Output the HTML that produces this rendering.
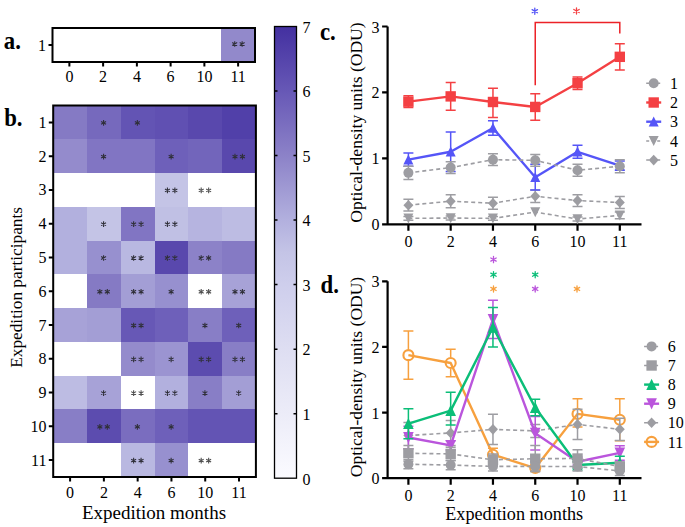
<!DOCTYPE html><html><head><meta charset="utf-8"><style>html,body{margin:0;padding:0;background:#fff;width:685px;height:527px;overflow:hidden}</style></head><body><svg width="685" height="527" viewBox="0 0 685 527" style="display:block">
<rect width="685" height="527" fill="#fff"/>
<g font-family="Liberation Serif" fill="#000">
<rect x="221" y="28.0" width="34" height="34.0" fill="#9289cb" shape-rendering="crispEdges"/>
<path d="M234.70 41.15V46.85M232.23 42.58L237.17 45.42M232.23 45.42L237.17 42.58M242.15 41.15V46.85M239.68 42.58L244.62 45.42M239.68 45.42L244.62 42.58" stroke="#30303a" stroke-width="1.1" stroke-linecap="butt" fill="none"/>
<rect x="53" y="106" width="34" height="33" fill="#857ac4" shape-rendering="crispEdges"/>
<rect x="87" y="106" width="34" height="33" fill="#7669bd" shape-rendering="crispEdges"/>
<rect x="121" y="106" width="34" height="33" fill="#6354b4" shape-rendering="crispEdges"/>
<rect x="155" y="106" width="33" height="33" fill="#6050b2" shape-rendering="crispEdges"/>
<rect x="188" y="106" width="34" height="33" fill="#5948ad" shape-rendering="crispEdges"/>
<rect x="222" y="106" width="34" height="33" fill="#5140a9" shape-rendering="crispEdges"/>
<rect x="53" y="139" width="34" height="34" fill="#948bcc" shape-rendering="crispEdges"/>
<rect x="87" y="139" width="34" height="34" fill="#8175c3" shape-rendering="crispEdges"/>
<rect x="121" y="139" width="34" height="34" fill="#8175c3" shape-rendering="crispEdges"/>
<rect x="155" y="139" width="33" height="34" fill="#6e60ba" shape-rendering="crispEdges"/>
<rect x="188" y="139" width="34" height="34" fill="#7265bb" shape-rendering="crispEdges"/>
<rect x="222" y="139" width="34" height="34" fill="#5948ad" shape-rendering="crispEdges"/>
<rect x="155" y="173" width="33" height="34" fill="#c4c4e6" shape-rendering="crispEdges"/>
<rect x="53" y="207" width="34" height="34" fill="#b2b0de" shape-rendering="crispEdges"/>
<rect x="87" y="207" width="34" height="34" fill="#c4c4e6" shape-rendering="crispEdges"/>
<rect x="121" y="207" width="34" height="34" fill="#8175c3" shape-rendering="crispEdges"/>
<rect x="155" y="207" width="33" height="34" fill="#c0c0e4" shape-rendering="crispEdges"/>
<rect x="188" y="207" width="34" height="34" fill="#b6b4e0" shape-rendering="crispEdges"/>
<rect x="222" y="207" width="34" height="34" fill="#bdbce3" shape-rendering="crispEdges"/>
<rect x="53" y="241" width="34" height="33" fill="#b2b0de" shape-rendering="crispEdges"/>
<rect x="87" y="241" width="34" height="33" fill="#9790cf" shape-rendering="crispEdges"/>
<rect x="121" y="241" width="34" height="33" fill="#b9b8e1" shape-rendering="crispEdges"/>
<rect x="155" y="241" width="33" height="33" fill="#5948ad" shape-rendering="crispEdges"/>
<rect x="188" y="241" width="34" height="33" fill="#8c82c8" shape-rendering="crispEdges"/>
<rect x="222" y="241" width="34" height="33" fill="#857ac4" shape-rendering="crispEdges"/>
<rect x="87" y="274" width="34" height="34" fill="#857ac4" shape-rendering="crispEdges"/>
<rect x="121" y="274" width="34" height="34" fill="#a39ed5" shape-rendering="crispEdges"/>
<rect x="155" y="274" width="33" height="34" fill="#9790cf" shape-rendering="crispEdges"/>
<rect x="222" y="274" width="34" height="34" fill="#a7a2d7" shape-rendering="crispEdges"/>
<rect x="53" y="308" width="34" height="34" fill="#a7a2d7" shape-rendering="crispEdges"/>
<rect x="87" y="308" width="34" height="34" fill="#a39ed5" shape-rendering="crispEdges"/>
<rect x="121" y="308" width="34" height="34" fill="#6758b6" shape-rendering="crispEdges"/>
<rect x="155" y="308" width="33" height="34" fill="#6e60ba" shape-rendering="crispEdges"/>
<rect x="188" y="308" width="34" height="34" fill="#887ec6" shape-rendering="crispEdges"/>
<rect x="222" y="308" width="34" height="34" fill="#6e60ba" shape-rendering="crispEdges"/>
<rect x="121" y="342" width="34" height="34" fill="#948bcc" shape-rendering="crispEdges"/>
<rect x="155" y="342" width="33" height="34" fill="#9b94d1" shape-rendering="crispEdges"/>
<rect x="188" y="342" width="34" height="34" fill="#5c4caf" shape-rendering="crispEdges"/>
<rect x="222" y="342" width="34" height="34" fill="#887ec6" shape-rendering="crispEdges"/>
<rect x="53" y="376" width="34" height="33" fill="#bdbce3" shape-rendering="crispEdges"/>
<rect x="87" y="376" width="34" height="33" fill="#a7a2d7" shape-rendering="crispEdges"/>
<rect x="155" y="376" width="33" height="33" fill="#b2b0de" shape-rendering="crispEdges"/>
<rect x="188" y="376" width="34" height="33" fill="#887ec6" shape-rendering="crispEdges"/>
<rect x="222" y="376" width="34" height="33" fill="#a39ed5" shape-rendering="crispEdges"/>
<rect x="53" y="409" width="34" height="34" fill="#887ec6" shape-rendering="crispEdges"/>
<rect x="87" y="409" width="34" height="34" fill="#5c4caf" shape-rendering="crispEdges"/>
<rect x="121" y="409" width="34" height="34" fill="#7a6dbf" shape-rendering="crispEdges"/>
<rect x="155" y="409" width="33" height="34" fill="#6e60ba" shape-rendering="crispEdges"/>
<rect x="188" y="409" width="34" height="34" fill="#6354b4" shape-rendering="crispEdges"/>
<rect x="222" y="409" width="34" height="34" fill="#6354b4" shape-rendering="crispEdges"/>
<rect x="121" y="443" width="34" height="34" fill="#b9b8e1" shape-rendering="crispEdges"/>
<rect x="155" y="443" width="33" height="34" fill="#9790cf" shape-rendering="crispEdges"/>
<path d="M103.58 120.04V125.74M101.11 121.46L106.04 124.31M101.11 124.31L106.04 121.46" stroke="#30303a" stroke-width="1.1" stroke-linecap="butt" fill="none"/>
<path d="M137.36 120.04V125.74M134.89 121.46L139.83 124.31M134.89 124.31L139.83 121.46" stroke="#30303a" stroke-width="1.1" stroke-linecap="butt" fill="none"/>
<path d="M103.58 153.81V159.51M101.11 155.23L106.04 158.08M101.11 158.08L106.04 155.23" stroke="#30303a" stroke-width="1.1" stroke-linecap="butt" fill="none"/>
<path d="M171.14 153.81V159.51M168.67 155.23L173.61 158.08M168.67 158.08L173.61 155.23" stroke="#30303a" stroke-width="1.1" stroke-linecap="butt" fill="none"/>
<path d="M234.98 153.81V159.51M232.52 155.23L237.45 158.08M232.52 158.08L237.45 155.23M242.43 153.81V159.51M239.97 155.23L244.90 158.08M239.97 158.08L244.90 155.23" stroke="#30303a" stroke-width="1.1" stroke-linecap="butt" fill="none"/>
<path d="M167.42 187.58V193.28M164.95 189.01L169.88 191.86M164.95 191.86L169.88 189.01M174.87 187.58V193.28M172.40 189.01L177.33 191.86M172.40 191.86L177.33 189.01" stroke="#30303a" stroke-width="1.1" stroke-linecap="butt" fill="none"/>
<path d="M201.20 187.58V193.28M198.73 189.01L203.67 191.86M198.73 191.86L203.67 189.01M208.65 187.58V193.28M206.18 189.01L211.12 191.86M206.18 191.86L211.12 189.01" stroke="#505050" stroke-width="1.1" stroke-linecap="butt" fill="none"/>
<path d="M103.58 221.35V227.05M101.11 222.78L106.04 225.63M101.11 225.63L106.04 222.78" stroke="#30303a" stroke-width="1.1" stroke-linecap="butt" fill="none"/>
<path d="M133.63 221.35V227.05M131.17 222.78L136.10 225.63M131.17 225.63L136.10 222.78M141.08 221.35V227.05M138.62 222.78L143.55 225.63M138.62 225.63L143.55 222.78" stroke="#30303a" stroke-width="1.1" stroke-linecap="butt" fill="none"/>
<path d="M167.42 221.35V227.05M164.95 222.78L169.88 225.63M164.95 225.63L169.88 222.78M174.87 221.35V227.05M172.40 222.78L177.33 225.63M172.40 225.63L177.33 222.78" stroke="#30303a" stroke-width="1.1" stroke-linecap="butt" fill="none"/>
<path d="M103.58 255.13V260.83M101.11 256.55L106.04 259.40M101.11 259.40L106.04 256.55" stroke="#30303a" stroke-width="1.1" stroke-linecap="butt" fill="none"/>
<path d="M133.63 255.13V260.83M131.17 256.55L136.10 259.40M131.17 259.40L136.10 256.55M141.08 255.13V260.83M138.62 256.55L143.55 259.40M138.62 259.40L143.55 256.55" stroke="#30303a" stroke-width="1.1" stroke-linecap="butt" fill="none"/>
<path d="M167.42 255.13V260.83M164.95 256.55L169.88 259.40M164.95 259.40L169.88 256.55M174.87 255.13V260.83M172.40 256.55L177.33 259.40M172.40 259.40L177.33 256.55" stroke="#30303a" stroke-width="1.1" stroke-linecap="butt" fill="none"/>
<path d="M201.20 255.13V260.83M198.73 256.55L203.67 259.40M198.73 259.40L203.67 256.55M208.65 255.13V260.83M206.18 256.55L211.12 259.40M206.18 259.40L211.12 256.55" stroke="#30303a" stroke-width="1.1" stroke-linecap="butt" fill="none"/>
<path d="M99.85 288.90V294.60M97.38 290.32L102.32 293.18M97.38 293.18L102.32 290.32M107.30 288.90V294.60M104.83 290.32L109.77 293.18M104.83 293.18L109.77 290.32" stroke="#30303a" stroke-width="1.1" stroke-linecap="butt" fill="none"/>
<path d="M133.63 288.90V294.60M131.17 290.32L136.10 293.18M131.17 293.18L136.10 290.32M141.08 288.90V294.60M138.62 290.32L143.55 293.18M138.62 293.18L143.55 290.32" stroke="#30303a" stroke-width="1.1" stroke-linecap="butt" fill="none"/>
<path d="M171.14 288.90V294.60M168.67 290.32L173.61 293.18M168.67 293.18L173.61 290.32" stroke="#30303a" stroke-width="1.1" stroke-linecap="butt" fill="none"/>
<path d="M201.20 288.90V294.60M198.73 290.32L203.67 293.18M198.73 293.18L203.67 290.32M208.65 288.90V294.60M206.18 290.32L211.12 293.18M206.18 293.18L211.12 290.32" stroke="#505050" stroke-width="1.1" stroke-linecap="butt" fill="none"/>
<path d="M234.98 288.90V294.60M232.52 290.32L237.45 293.18M232.52 293.18L237.45 290.32M242.43 288.90V294.60M239.97 290.32L244.90 293.18M239.97 293.18L244.90 290.32" stroke="#30303a" stroke-width="1.1" stroke-linecap="butt" fill="none"/>
<path d="M133.63 322.67V328.37M131.17 324.10L136.10 326.95M131.17 326.95L136.10 324.10M141.08 322.67V328.37M138.62 324.10L143.55 326.95M138.62 326.95L143.55 324.10" stroke="#30303a" stroke-width="1.1" stroke-linecap="butt" fill="none"/>
<path d="M204.92 322.67V328.37M202.46 324.10L207.39 326.95M202.46 326.95L207.39 324.10" stroke="#30303a" stroke-width="1.1" stroke-linecap="butt" fill="none"/>
<path d="M238.71 322.67V328.37M236.24 324.10L241.18 326.95M236.24 326.95L241.18 324.10" stroke="#30303a" stroke-width="1.1" stroke-linecap="butt" fill="none"/>
<path d="M133.63 356.45V362.15M131.17 357.87L136.10 360.72M131.17 360.72L136.10 357.87M141.08 356.45V362.15M138.62 357.87L143.55 360.72M138.62 360.72L143.55 357.87" stroke="#30303a" stroke-width="1.1" stroke-linecap="butt" fill="none"/>
<path d="M171.14 356.45V362.15M168.67 357.87L173.61 360.72M168.67 360.72L173.61 357.87" stroke="#30303a" stroke-width="1.1" stroke-linecap="butt" fill="none"/>
<path d="M201.20 356.45V362.15M198.73 357.87L203.67 360.72M198.73 360.72L203.67 357.87M208.65 356.45V362.15M206.18 357.87L211.12 360.72M206.18 360.72L211.12 357.87" stroke="#30303a" stroke-width="1.1" stroke-linecap="butt" fill="none"/>
<path d="M234.98 356.45V362.15M232.52 357.87L237.45 360.72M232.52 360.72L237.45 357.87M242.43 356.45V362.15M239.97 357.87L244.90 360.72M239.97 360.72L244.90 357.87" stroke="#30303a" stroke-width="1.1" stroke-linecap="butt" fill="none"/>
<path d="M103.58 390.22V395.92M101.11 391.64L106.04 394.49M101.11 394.49L106.04 391.64" stroke="#30303a" stroke-width="1.1" stroke-linecap="butt" fill="none"/>
<path d="M133.63 390.22V395.92M131.17 391.64L136.10 394.49M131.17 394.49L136.10 391.64M141.08 390.22V395.92M138.62 391.64L143.55 394.49M138.62 394.49L143.55 391.64" stroke="#505050" stroke-width="1.1" stroke-linecap="butt" fill="none"/>
<path d="M167.42 390.22V395.92M164.95 391.64L169.88 394.49M164.95 394.49L169.88 391.64M174.87 390.22V395.92M172.40 391.64L177.33 394.49M172.40 394.49L177.33 391.64" stroke="#30303a" stroke-width="1.1" stroke-linecap="butt" fill="none"/>
<path d="M204.92 390.22V395.92M202.46 391.64L207.39 394.49M202.46 394.49L207.39 391.64" stroke="#30303a" stroke-width="1.1" stroke-linecap="butt" fill="none"/>
<path d="M238.71 390.22V395.92M236.24 391.64L241.18 394.49M236.24 394.49L241.18 391.64" stroke="#30303a" stroke-width="1.1" stroke-linecap="butt" fill="none"/>
<path d="M99.85 423.99V429.69M97.38 425.42L102.32 428.27M97.38 428.27L102.32 425.42M107.30 423.99V429.69M104.83 425.42L109.77 428.27M104.83 428.27L109.77 425.42" stroke="#30303a" stroke-width="1.1" stroke-linecap="butt" fill="none"/>
<path d="M137.36 423.99V429.69M134.89 425.42L139.83 428.27M134.89 428.27L139.83 425.42" stroke="#30303a" stroke-width="1.1" stroke-linecap="butt" fill="none"/>
<path d="M171.14 423.99V429.69M168.67 425.42L173.61 428.27M168.67 428.27L173.61 425.42" stroke="#30303a" stroke-width="1.1" stroke-linecap="butt" fill="none"/>
<path d="M133.63 457.76V463.46M131.17 459.19L136.10 462.04M131.17 462.04L136.10 459.19M141.08 457.76V463.46M138.62 459.19L143.55 462.04M138.62 462.04L143.55 459.19" stroke="#30303a" stroke-width="1.1" stroke-linecap="butt" fill="none"/>
<path d="M171.14 457.76V463.46M168.67 459.19L173.61 462.04M168.67 462.04L173.61 459.19" stroke="#30303a" stroke-width="1.1" stroke-linecap="butt" fill="none"/>
<path d="M201.20 457.76V463.46M198.73 459.19L203.67 462.04M198.73 462.04L203.67 459.19M208.65 457.76V463.46M206.18 459.19L211.12 462.04M206.18 462.04L211.12 459.19" stroke="#505050" stroke-width="1.1" stroke-linecap="butt" fill="none"/>
<rect x="52.5" y="28.0" width="202.5" height="34.0" fill="none" stroke="#000" stroke-width="2"/>
<rect x="53.2" y="105.5" width="202.7" height="371.5" fill="none" stroke="#000" stroke-width="2"/>
<path d="M48.5 45.00H52.5 M69.38 62.0V66.5 M70.09 477.0V481.5 M103.12 62.0V66.5 M103.88 477.0V481.5 M136.88 62.0V66.5 M137.66 477.0V481.5 M170.62 62.0V66.5 M171.44 477.0V481.5 M204.38 62.0V66.5 M205.22 477.0V481.5 M238.12 62.0V66.5 M239.01 477.0V481.5 M48.8 122.39H53.2 M48.8 156.16H53.2 M48.8 189.93H53.2 M48.8 223.70H53.2 M48.8 257.48H53.2 M48.8 291.25H53.2 M48.8 325.02H53.2 M48.8 358.80H53.2 M48.8 392.57H53.2 M48.8 426.34H53.2 M48.8 460.11H53.2" stroke="#000" stroke-width="2" fill="none"/>
<text x="46" y="50.50" font-size="16" text-anchor="end">1</text>
<text x="69.38" y="82.20" font-size="16" text-anchor="middle">0</text>
<text x="70.09" y="497.60" font-size="16" text-anchor="middle">0</text>
<text x="103.12" y="82.20" font-size="16" text-anchor="middle">2</text>
<text x="103.88" y="497.60" font-size="16" text-anchor="middle">2</text>
<text x="136.88" y="82.20" font-size="16" text-anchor="middle">4</text>
<text x="137.66" y="497.60" font-size="16" text-anchor="middle">4</text>
<text x="170.62" y="82.20" font-size="16" text-anchor="middle">6</text>
<text x="171.44" y="497.60" font-size="16" text-anchor="middle">6</text>
<text x="204.38" y="82.20" font-size="16" text-anchor="middle">10</text>
<text x="205.22" y="497.60" font-size="16" text-anchor="middle">10</text>
<text x="238.12" y="82.20" font-size="16" text-anchor="middle">11</text>
<text x="239.01" y="497.60" font-size="16" text-anchor="middle">11</text>
<text x="46.5" y="127.89" font-size="16" text-anchor="end">1</text>
<text x="46.5" y="161.66" font-size="16" text-anchor="end">2</text>
<text x="46.5" y="195.43" font-size="16" text-anchor="end">3</text>
<text x="46.5" y="229.20" font-size="16" text-anchor="end">4</text>
<text x="46.5" y="262.98" font-size="16" text-anchor="end">5</text>
<text x="46.5" y="296.75" font-size="16" text-anchor="end">6</text>
<text x="46.5" y="330.52" font-size="16" text-anchor="end">7</text>
<text x="46.5" y="364.30" font-size="16" text-anchor="end">8</text>
<text x="46.5" y="398.07" font-size="16" text-anchor="end">9</text>
<text x="46.5" y="431.84" font-size="16" text-anchor="end">10</text>
<text x="46.5" y="465.61" font-size="16" text-anchor="end">11</text>
<text x="154" y="518.7" font-size="19" text-anchor="middle">Expedition months</text>
<text transform="translate(22 287.4) rotate(-90)" font-size="17.3" text-anchor="middle">Expedition participants</text>
<text transform="translate(3.8 48.8) scale(0.95 1.07)" font-size="24" font-weight="bold">a.</text>
<text transform="translate(4.2 125.8) scale(0.95 1.07)" font-size="24" font-weight="bold">b.</text>
<text transform="translate(320 39.8) scale(0.95 1.07)" font-size="24" font-weight="bold">c.</text>
<text transform="translate(320.5 292.8) scale(0.95 1.07)" font-size="24" font-weight="bold">d.</text>
<defs><linearGradient id="cb" x1="0" y1="1" x2="0" y2="0">
<stop offset="0.0000" stop-color="#fbfbff"/>
<stop offset="0.1429" stop-color="#ececf8"/>
<stop offset="0.2857" stop-color="#dedef2"/>
<stop offset="0.4286" stop-color="#ceceec"/>
<stop offset="0.5000" stop-color="#c4c4e6"/>
<stop offset="0.5714" stop-color="#b2b0de"/>
<stop offset="0.7143" stop-color="#8c82c8"/>
<stop offset="0.8571" stop-color="#6758b6"/>
<stop offset="1.0000" stop-color="#4330a0"/>
</linearGradient></defs>
<rect x="274.5" y="26.5" width="22.0" height="451.7" fill="url(#cb)" stroke="#000" stroke-width="1.3"/>
<path d="M274.5 413.67h3M296.5 413.67h-3M274.5 349.14h3M296.5 349.14h-3M274.5 284.61h3M296.5 284.61h-3M274.5 220.09h3M296.5 220.09h-3M274.5 155.56h3M296.5 155.56h-3M274.5 91.03h3M296.5 91.03h-3" stroke="#000" stroke-width="1.5"/>
<text x="302.5" y="484.50" font-size="16">0</text>
<text x="302.5" y="419.97" font-size="16">1</text>
<text x="302.5" y="355.44" font-size="16">2</text>
<text x="302.5" y="290.91" font-size="16">3</text>
<text x="302.5" y="226.39" font-size="16">4</text>
<text x="302.5" y="161.86" font-size="16">5</text>
<text x="302.5" y="97.33" font-size="16">6</text>
<text x="302.5" y="32.80" font-size="16">7</text>
<path d="M387.6 26.5V225.3 M386.6 224.3H641.5 M382.1 224.30H387.6 M382.1 158.37H387.6 M382.1 92.43H387.6 M382.1 26.50H387.6 M408.4 224.3V230.8 M450.67999999999995 224.3V230.8 M492.96 224.3V230.8 M535.24 224.3V230.8 M577.52 224.3V230.8 M619.8 224.3V230.8" stroke="#000" stroke-width="2.2" fill="none"/>
<text x="379.6" y="230.30" font-size="16" text-anchor="end">0</text>
<text x="379.6" y="164.37" font-size="16" text-anchor="end">1</text>
<text x="379.6" y="98.43" font-size="16" text-anchor="end">2</text>
<text x="379.6" y="32.50" font-size="16" text-anchor="end">3</text>
<text x="408.4" y="246.80" font-size="16" text-anchor="middle">0</text>
<text x="450.67999999999995" y="246.80" font-size="16" text-anchor="middle">2</text>
<text x="492.96" y="246.80" font-size="16" text-anchor="middle">4</text>
<text x="535.24" y="246.80" font-size="16" text-anchor="middle">6</text>
<text x="577.52" y="246.80" font-size="16" text-anchor="middle">10</text>
<text x="619.8" y="246.80" font-size="16" text-anchor="middle">11</text>
<text transform="translate(362 122.6) rotate(-90)" font-size="17.5" text-anchor="middle">Optical-density units (ODU)</text>
<path d="M408.40 205.18 L450.68 201.22 L492.96 203.20 L535.24 196.28 L577.52 200.56 L619.80 202.54" stroke="#9d9da2" stroke-width="1.6" stroke-dasharray="4 3" fill="none"/>
<path d="M408.40 199.25V211.11M403.40 199.25h10M403.40 211.11h10" stroke="#9d9da2" stroke-width="1.5" fill="none"/>
<path d="M450.68 194.63V207.82M445.68 194.63h10M445.68 207.82h10" stroke="#9d9da2" stroke-width="1.5" fill="none"/>
<path d="M492.96 197.27V209.14M487.96 197.27h10M487.96 209.14h10" stroke="#9d9da2" stroke-width="1.5" fill="none"/>
<path d="M535.24 190.01V202.54M530.24 190.01h10M530.24 202.54h10" stroke="#9d9da2" stroke-width="1.5" fill="none"/>
<path d="M577.52 194.63V206.50M572.52 194.63h10M572.52 206.50h10" stroke="#9d9da2" stroke-width="1.5" fill="none"/>
<path d="M619.80 196.61V208.48M614.80 196.61h10M614.80 208.48h10" stroke="#9d9da2" stroke-width="1.5" fill="none"/>
<path d="M408.40 199.88L413.40 205.18L408.40 210.48L403.40 205.18Z" fill="#9d9da2"/>
<path d="M450.68 195.92L455.68 201.22L450.68 206.52L445.68 201.22Z" fill="#9d9da2"/>
<path d="M492.96 197.90L497.96 203.20L492.96 208.50L487.96 203.20Z" fill="#9d9da2"/>
<path d="M535.24 190.98L540.24 196.28L535.24 201.58L530.24 196.28Z" fill="#9d9da2"/>
<path d="M577.52 195.26L582.52 200.56L577.52 205.86L572.52 200.56Z" fill="#9d9da2"/>
<path d="M619.80 197.24L624.80 202.54L619.80 207.84L614.80 202.54Z" fill="#9d9da2"/>
<path d="M408.40 218.37 L450.68 218.04 L492.96 218.37 L535.24 212.10 L577.52 219.03 L619.80 215.40" stroke="#9d9da2" stroke-width="1.6" stroke-dasharray="4 3" fill="none"/>
<path d="M408.40 216.39V220.34M403.40 216.39h10M403.40 220.34h10" stroke="#9d9da2" stroke-width="1.5" fill="none"/>
<path d="M450.68 216.06V220.01M445.68 216.06h10M445.68 220.01h10" stroke="#9d9da2" stroke-width="1.5" fill="none"/>
<path d="M492.96 216.39V220.34M487.96 216.39h10M487.96 220.34h10" stroke="#9d9da2" stroke-width="1.5" fill="none"/>
<path d="M577.52 217.05V221.00M572.52 217.05h10M572.52 221.00h10" stroke="#9d9da2" stroke-width="1.5" fill="none"/>
<path d="M619.80 212.10V218.70M614.80 212.10h10M614.80 218.70h10" stroke="#9d9da2" stroke-width="1.5" fill="none"/>
<path d="M408.40 223.57L413.40 213.57L403.40 213.57Z" fill="#9d9da2"/>
<path d="M450.68 223.24L455.68 213.24L445.68 213.24Z" fill="#9d9da2"/>
<path d="M492.96 223.57L497.96 213.57L487.96 213.57Z" fill="#9d9da2"/>
<path d="M535.24 217.30L540.24 207.30L530.24 207.30Z" fill="#9d9da2"/>
<path d="M577.52 224.23L582.52 214.23L572.52 214.23Z" fill="#9d9da2"/>
<path d="M619.80 220.60L624.80 210.60L614.80 210.60Z" fill="#9d9da2"/>
<path d="M408.40 159.69 L450.68 151.77 L492.96 128.04 L535.24 177.16 L577.52 151.77 L619.80 165.62" stroke="#5555f7" stroke-width="2.4" fill="none" stroke-linejoin="round"/>
<path d="M408.40 153.09V166.28M403.40 153.09h10M403.40 166.28h10" stroke="#5555f7" stroke-width="1.5" fill="none"/>
<path d="M450.68 131.99V171.55M445.68 131.99h10M445.68 171.55h10" stroke="#5555f7" stroke-width="1.5" fill="none"/>
<path d="M492.96 120.78V135.29M487.96 120.78h10M487.96 135.29h10" stroke="#5555f7" stroke-width="1.5" fill="none"/>
<path d="M535.24 164.30V190.01M530.24 164.30h10M530.24 190.01h10" stroke="#5555f7" stroke-width="1.5" fill="none"/>
<path d="M577.52 145.18V158.37M572.52 145.18h10M572.52 158.37h10" stroke="#5555f7" stroke-width="1.5" fill="none"/>
<path d="M619.80 161.00V170.23M614.80 161.00h10M614.80 170.23h10" stroke="#5555f7" stroke-width="1.5" fill="none"/>
<path d="M408.40 154.49L413.40 164.49L403.40 164.49Z" fill="#5555f7"/>
<path d="M450.68 146.57L455.68 156.57L445.68 156.57Z" fill="#5555f7"/>
<path d="M492.96 122.84L497.96 132.84L487.96 132.84Z" fill="#5555f7"/>
<path d="M535.24 171.96L540.24 181.96L530.24 181.96Z" fill="#5555f7"/>
<path d="M577.52 146.57L582.52 156.57L572.52 156.57Z" fill="#5555f7"/>
<path d="M619.80 160.42L624.80 170.42L614.80 170.42Z" fill="#5555f7"/>
<path d="M408.40 101.66 L450.68 96.39 L492.96 101.99 L535.24 106.94 L577.52 83.20 L619.80 56.83" stroke="#f44043" stroke-width="2.4" fill="none" stroke-linejoin="round"/>
<path d="M408.40 95.73V107.60M403.40 95.73h10M403.40 107.60h10" stroke="#f44043" stroke-width="1.5" fill="none"/>
<path d="M450.68 82.54V110.24M445.68 82.54h10M445.68 110.24h10" stroke="#f44043" stroke-width="1.5" fill="none"/>
<path d="M492.96 88.15V117.49M487.96 88.15h10M487.96 117.49h10" stroke="#f44043" stroke-width="1.5" fill="none"/>
<path d="M535.24 93.75V120.13M530.24 93.75h10M530.24 120.13h10" stroke="#f44043" stroke-width="1.5" fill="none"/>
<path d="M577.52 76.94V89.47M572.52 76.94h10M572.52 89.47h10" stroke="#f44043" stroke-width="1.5" fill="none"/>
<path d="M619.80 43.64V70.02M614.80 43.64h10M614.80 70.02h10" stroke="#f44043" stroke-width="1.5" fill="none"/>
<rect x="403.20" y="96.46" width="10.4" height="10.4" fill="#f44043"/>
<rect x="445.48" y="91.19" width="10.4" height="10.4" fill="#f44043"/>
<rect x="487.76" y="96.79" width="10.4" height="10.4" fill="#f44043"/>
<rect x="530.04" y="101.74" width="10.4" height="10.4" fill="#f44043"/>
<rect x="572.32" y="78.00" width="10.4" height="10.4" fill="#f44043"/>
<rect x="614.60" y="51.63" width="10.4" height="10.4" fill="#f44043"/>
<path d="M408.40 172.87 L450.68 167.60 L492.96 159.69 L535.24 160.34 L577.52 170.23 L619.80 166.28" stroke="#9d9da2" stroke-width="1.6" stroke-dasharray="4 3" fill="none"/>
<path d="M408.40 166.28V179.47M403.40 166.28h10M403.40 179.47h10" stroke="#9d9da2" stroke-width="1.5" fill="none"/>
<path d="M450.68 161.66V173.53M445.68 161.66h10M445.68 173.53h10" stroke="#9d9da2" stroke-width="1.5" fill="none"/>
<path d="M492.96 153.75V165.62M487.96 153.75h10M487.96 165.62h10" stroke="#9d9da2" stroke-width="1.5" fill="none"/>
<path d="M535.24 154.41V166.28M530.24 154.41h10M530.24 166.28h10" stroke="#9d9da2" stroke-width="1.5" fill="none"/>
<path d="M577.52 164.30V176.17M572.52 164.30h10M572.52 176.17h10" stroke="#9d9da2" stroke-width="1.5" fill="none"/>
<path d="M619.80 159.69V172.87M614.80 159.69h10M614.80 172.87h10" stroke="#9d9da2" stroke-width="1.5" fill="none"/>
<circle cx="408.40" cy="172.87" r="5" fill="#9d9da2"/>
<circle cx="450.68" cy="167.60" r="5" fill="#9d9da2"/>
<circle cx="492.96" cy="159.69" r="5" fill="#9d9da2"/>
<circle cx="535.24" cy="160.34" r="5" fill="#9d9da2"/>
<circle cx="577.52" cy="170.23" r="5" fill="#9d9da2"/>
<circle cx="619.80" cy="166.28" r="5" fill="#9d9da2"/>
<path d="M646.2 83.30h15" stroke="#9d9da2" stroke-width="1.5" stroke-dasharray="3 2.5"/>
<circle cx="653.70" cy="83.30" r="5" fill="#9d9da2"/>
<text x="669.9000000000001" y="88.90" font-size="16">1</text>
<path d="M646.2 102.50h15" stroke="#f44043" stroke-width="2.4"/>
<rect x="648.50" y="97.30" width="10.4" height="10.4" fill="#f44043"/>
<text x="669.9000000000001" y="108.10" font-size="16">2</text>
<path d="M646.2 121.70h15" stroke="#5555f7" stroke-width="2.4"/>
<path d="M653.70 116.50L658.70 126.50L648.70 126.50Z" fill="#5555f7"/>
<text x="669.9000000000001" y="127.30" font-size="16">3</text>
<path d="M646.2 140.90h15" stroke="#9d9da2" stroke-width="1.5" stroke-dasharray="3 2.5"/>
<path d="M653.70 146.10L658.70 136.10L648.70 136.10Z" fill="#9d9da2"/>
<text x="669.9000000000001" y="146.50" font-size="16">4</text>
<path d="M646.2 160.10h15" stroke="#9d9da2" stroke-width="1.5" stroke-dasharray="3 2.5"/>
<path d="M653.70 154.80L658.70 160.10L653.70 165.40L648.70 160.10Z" fill="#9d9da2"/>
<text x="669.9000000000001" y="165.70" font-size="16">5</text>
<path d="M535.24 85.2V22.5H619.80V33.6" stroke="#ec2227" stroke-width="1.5" fill="none"/>
<path d="M534.80 8.10V14.30M532.12 9.65L537.48 12.75M532.12 12.75L537.48 9.65" stroke="#5555f7" stroke-width="1.3" stroke-linecap="round" fill="none"/>
<path d="M576.50 7.90V14.10M573.82 9.45L579.18 12.55M573.82 12.55L579.18 9.45" stroke="#f44043" stroke-width="1.3" stroke-linecap="round" fill="none"/>
<path d="M387.6 281.3V479.2 M386.6 478.2H641.5 M382.1 478.20H387.6 M382.1 412.57H387.6 M382.1 346.93H387.6 M382.1 281.30H387.6 M408.4 478.2V484.7 M450.67999999999995 478.2V484.7 M492.96 478.2V484.7 M535.24 478.2V484.7 M577.52 478.2V484.7 M619.8 478.2V484.7" stroke="#000" stroke-width="2.2" fill="none"/>
<text x="379.6" y="484.20" font-size="16" text-anchor="end">0</text>
<text x="379.6" y="418.57" font-size="16" text-anchor="end">1</text>
<text x="379.6" y="352.93" font-size="16" text-anchor="end">2</text>
<text x="379.6" y="287.30" font-size="16" text-anchor="end">3</text>
<text x="408.4" y="500.70" font-size="16" text-anchor="middle">0</text>
<text x="450.67999999999995" y="500.70" font-size="16" text-anchor="middle">2</text>
<text x="492.96" y="500.70" font-size="16" text-anchor="middle">4</text>
<text x="535.24" y="500.70" font-size="16" text-anchor="middle">6</text>
<text x="577.52" y="500.70" font-size="16" text-anchor="middle">10</text>
<text x="619.8" y="500.70" font-size="16" text-anchor="middle">11</text>
<text transform="translate(362 377) rotate(-90)" font-size="17.5" text-anchor="middle">Optical-density units (ODU)</text>
<path d="M408.40 355.14 L450.68 362.95 L492.96 454.70 L535.24 468.03 L577.52 413.88 L619.80 419.79" stroke="#f7a03e" stroke-width="2.4" fill="none" stroke-linejoin="round"/>
<path d="M408.40 331.12V349.64M408.40 360.64V379.16M403.40 331.12h10M403.40 379.16h10" stroke="#f7a03e" stroke-width="1.5" fill="none"/>
<path d="M450.68 349.16V357.45M450.68 368.45V376.73M445.68 349.16h10M445.68 376.73h10" stroke="#f7a03e" stroke-width="1.5" fill="none"/>
<path d="M492.96 448.14V449.20M487.96 448.14h10M487.96 457.98h10" stroke="#f7a03e" stroke-width="1.5" fill="none"/>
<path d="M530.24 464.75h10M530.24 471.31h10" stroke="#f7a03e" stroke-width="1.5" fill="none"/>
<path d="M577.52 398.78V408.38M577.52 419.38V427.01M572.52 398.78h10M572.52 427.01h10" stroke="#f7a03e" stroke-width="1.5" fill="none"/>
<path d="M619.80 398.78V414.29M619.80 425.29V440.79M614.80 398.78h10M614.80 440.79h10" stroke="#f7a03e" stroke-width="1.5" fill="none"/>
<circle cx="408.40" cy="355.14" r="5.0" fill="none" stroke="#f7a03e" stroke-width="2.1"/>
<circle cx="450.68" cy="362.95" r="5.0" fill="none" stroke="#f7a03e" stroke-width="2.1"/>
<circle cx="492.96" cy="454.70" r="5.0" fill="none" stroke="#f7a03e" stroke-width="2.1"/>
<circle cx="535.24" cy="468.03" r="5.0" fill="none" stroke="#f7a03e" stroke-width="2.1"/>
<circle cx="577.52" cy="413.88" r="5.0" fill="none" stroke="#f7a03e" stroke-width="2.1"/>
<circle cx="619.80" cy="419.79" r="5.0" fill="none" stroke="#f7a03e" stroke-width="2.1"/>
<path d="M408.40 435.54 L450.68 432.91 L492.96 429.37 L535.24 430.94 L577.52 424.38 L619.80 429.30" stroke="#9d9da2" stroke-width="1.6" stroke-dasharray="4 3" fill="none"/>
<path d="M408.40 422.41V448.66M403.40 422.41h10M403.40 448.66h10" stroke="#9d9da2" stroke-width="1.5" fill="none"/>
<path d="M450.68 420.44V445.38M445.68 420.44h10M445.68 445.38h10" stroke="#9d9da2" stroke-width="1.5" fill="none"/>
<path d="M492.96 414.27V444.46M487.96 414.27h10M487.96 444.46h10" stroke="#9d9da2" stroke-width="1.5" fill="none"/>
<path d="M535.24 424.38V437.51M530.24 424.38h10M530.24 437.51h10" stroke="#9d9da2" stroke-width="1.5" fill="none"/>
<path d="M577.52 409.29V439.48M572.52 409.29h10M572.52 439.48h10" stroke="#9d9da2" stroke-width="1.5" fill="none"/>
<path d="M619.80 418.15V440.46M614.80 418.15h10M614.80 440.46h10" stroke="#9d9da2" stroke-width="1.5" fill="none"/>
<path d="M408.40 430.24L413.40 435.54L408.40 440.84L403.40 435.54Z" fill="#9d9da2"/>
<path d="M450.68 427.61L455.68 432.91L450.68 438.21L445.68 432.91Z" fill="#9d9da2"/>
<path d="M492.96 424.07L497.96 429.37L492.96 434.67L487.96 429.37Z" fill="#9d9da2"/>
<path d="M535.24 425.64L540.24 430.94L535.24 436.24L530.24 430.94Z" fill="#9d9da2"/>
<path d="M577.52 419.08L582.52 424.38L577.52 429.68L572.52 424.38Z" fill="#9d9da2"/>
<path d="M619.80 424.00L624.80 429.30L619.80 434.60L614.80 429.30Z" fill="#9d9da2"/>
<path d="M408.40 437.51 L450.68 445.38 L492.96 319.37 L535.24 433.24 L577.52 461.79 L619.80 452.93" stroke="#ba55dc" stroke-width="2.4" fill="none" stroke-linejoin="round"/>
<path d="M408.40 426.35V448.67M403.40 426.35h10M403.40 448.67h10" stroke="#ba55dc" stroke-width="1.5" fill="none"/>
<path d="M450.68 440.79V449.98M445.68 440.79h10M445.68 449.98h10" stroke="#ba55dc" stroke-width="1.5" fill="none"/>
<path d="M492.96 300.33V338.40M487.96 300.33h10M487.96 338.40h10" stroke="#ba55dc" stroke-width="1.5" fill="none"/>
<path d="M535.24 416.50V449.98M530.24 416.50h10M530.24 449.98h10" stroke="#ba55dc" stroke-width="1.5" fill="none"/>
<path d="M577.52 458.51V465.07M572.52 458.51h10M572.52 465.07h10" stroke="#ba55dc" stroke-width="1.5" fill="none"/>
<path d="M619.80 445.71V460.15M614.80 445.71h10M614.80 460.15h10" stroke="#ba55dc" stroke-width="1.5" fill="none"/>
<path d="M408.40 443.31L413.70 432.11L403.10 432.11Z" fill="#ba55dc"/>
<path d="M450.68 451.18L455.98 439.98L445.38 439.98Z" fill="#ba55dc"/>
<path d="M492.96 325.17L498.26 313.97L487.66 313.97Z" fill="#ba55dc"/>
<path d="M535.24 439.04L540.54 427.84L529.94 427.84Z" fill="#ba55dc"/>
<path d="M577.52 467.59L582.82 456.39L572.22 456.39Z" fill="#ba55dc"/>
<path d="M619.80 458.73L625.10 447.53L614.50 447.53Z" fill="#ba55dc"/>
<path d="M408.40 423.72 L450.68 410.60 L492.96 327.24 L535.24 407.58 L577.52 465.07 L619.80 462.78" stroke="#0bbe78" stroke-width="2.4" fill="none" stroke-linejoin="round"/>
<path d="M408.40 408.63V438.82M403.40 408.63h10M403.40 438.82h10" stroke="#0bbe78" stroke-width="1.5" fill="none"/>
<path d="M450.68 392.22V425.04M445.68 392.22h10M445.68 425.04h10" stroke="#0bbe78" stroke-width="1.5" fill="none"/>
<path d="M492.96 307.55V346.93M487.96 307.55h10M487.96 346.93h10" stroke="#0bbe78" stroke-width="1.5" fill="none"/>
<path d="M535.24 399.37V415.78M530.24 399.37h10M530.24 415.78h10" stroke="#0bbe78" stroke-width="1.5" fill="none"/>
<path d="M577.52 461.79V468.36M572.52 461.79h10M572.52 468.36h10" stroke="#0bbe78" stroke-width="1.5" fill="none"/>
<path d="M619.80 456.21V469.34M614.80 456.21h10M614.80 469.34h10" stroke="#0bbe78" stroke-width="1.5" fill="none"/>
<path d="M408.40 417.92L413.70 429.12L403.10 429.12Z" fill="#0bbe78"/>
<path d="M450.68 404.80L455.98 416.00L445.38 416.00Z" fill="#0bbe78"/>
<path d="M492.96 321.44L498.26 332.64L487.66 332.64Z" fill="#0bbe78"/>
<path d="M535.24 401.78L540.54 412.98L529.94 412.98Z" fill="#0bbe78"/>
<path d="M577.52 459.27L582.82 470.47L572.22 470.47Z" fill="#0bbe78"/>
<path d="M619.80 456.98L625.10 468.18L614.50 468.18Z" fill="#0bbe78"/>
<path d="M408.40 453.26 L450.68 453.92 L492.96 459.82 L535.24 458.71 L577.52 458.51 L619.80 466.58" stroke="#9d9da2" stroke-width="1.6" stroke-dasharray="4 3" fill="none"/>
<path d="M408.40 445.38V461.14M403.40 445.38h10M403.40 461.14h10" stroke="#9d9da2" stroke-width="1.5" fill="none"/>
<path d="M450.68 447.35V460.48M445.68 447.35h10M445.68 460.48h10" stroke="#9d9da2" stroke-width="1.5" fill="none"/>
<path d="M492.96 453.92V465.73M487.96 453.92h10M487.96 465.73h10" stroke="#9d9da2" stroke-width="1.5" fill="none"/>
<path d="M535.24 445.58V471.83M530.24 445.58h10M530.24 471.83h10" stroke="#9d9da2" stroke-width="1.5" fill="none"/>
<path d="M577.52 449.72V467.30M572.52 449.72h10M572.52 467.30h10" stroke="#9d9da2" stroke-width="1.5" fill="none"/>
<path d="M619.80 461.99V471.18M614.80 461.99h10M614.80 471.18h10" stroke="#9d9da2" stroke-width="1.5" fill="none"/>
<rect x="403.20" y="448.06" width="10.4" height="10.4" fill="#9d9da2"/>
<rect x="445.48" y="448.72" width="10.4" height="10.4" fill="#9d9da2"/>
<rect x="487.76" y="454.62" width="10.4" height="10.4" fill="#9d9da2"/>
<rect x="530.04" y="453.51" width="10.4" height="10.4" fill="#9d9da2"/>
<rect x="572.32" y="453.31" width="10.4" height="10.4" fill="#9d9da2"/>
<rect x="614.60" y="461.38" width="10.4" height="10.4" fill="#9d9da2"/>
<path d="M408.40 464.22 L450.68 465.07 L492.96 466.39 L535.24 466.39 L577.52 466.52 L619.80 470.98" stroke="#9d9da2" stroke-width="1.6" stroke-dasharray="4 3" fill="none"/>
<path d="M408.40 459.63V468.81M403.40 459.63h10M403.40 468.81h10" stroke="#9d9da2" stroke-width="1.5" fill="none"/>
<path d="M450.68 460.48V469.67M445.68 460.48h10M445.68 469.67h10" stroke="#9d9da2" stroke-width="1.5" fill="none"/>
<path d="M492.96 461.79V470.98M487.96 461.79h10M487.96 470.98h10" stroke="#9d9da2" stroke-width="1.5" fill="none"/>
<path d="M535.24 461.79V470.98M530.24 461.79h10M530.24 470.98h10" stroke="#9d9da2" stroke-width="1.5" fill="none"/>
<path d="M577.52 461.92V471.11M572.52 461.92h10M572.52 471.11h10" stroke="#9d9da2" stroke-width="1.5" fill="none"/>
<path d="M619.80 466.39V475.57M614.80 466.39h10M614.80 475.57h10" stroke="#9d9da2" stroke-width="1.5" fill="none"/>
<circle cx="408.40" cy="464.22" r="5" fill="#9d9da2"/>
<circle cx="450.68" cy="465.07" r="5" fill="#9d9da2"/>
<circle cx="492.96" cy="466.39" r="5" fill="#9d9da2"/>
<circle cx="535.24" cy="466.39" r="5" fill="#9d9da2"/>
<circle cx="577.52" cy="466.52" r="5" fill="#9d9da2"/>
<circle cx="619.80" cy="470.98" r="5" fill="#9d9da2"/>
<path d="M644.1 346.40h15" stroke="#9d9da2" stroke-width="1.5" stroke-dasharray="3 2.5"/>
<circle cx="651.60" cy="346.40" r="5" fill="#9d9da2"/>
<text x="667.8000000000001" y="352.00" font-size="16">6</text>
<path d="M644.1 365.50h15" stroke="#9d9da2" stroke-width="1.5" stroke-dasharray="3 2.5"/>
<rect x="646.40" y="360.30" width="10.4" height="10.4" fill="#9d9da2"/>
<text x="667.8000000000001" y="371.10" font-size="16">7</text>
<path d="M644.1 384.60h15" stroke="#0bbe78" stroke-width="2.4"/>
<path d="M651.60 378.80L656.90 390.00L646.30 390.00Z" fill="#0bbe78"/>
<text x="667.8000000000001" y="390.20" font-size="16">8</text>
<path d="M644.1 403.70h15" stroke="#ba55dc" stroke-width="2.4"/>
<path d="M651.60 409.50L656.90 398.30L646.30 398.30Z" fill="#ba55dc"/>
<text x="667.8000000000001" y="409.30" font-size="16">9</text>
<path d="M644.1 422.80h15" stroke="#9d9da2" stroke-width="1.5" stroke-dasharray="3 2.5"/>
<path d="M651.60 417.50L656.60 422.80L651.60 428.10L646.60 422.80Z" fill="#9d9da2"/>
<text x="667.8000000000001" y="428.40" font-size="16">10</text>
<path d="M644.1 441.90h15" stroke="#f7a03e" stroke-width="2.4"/>
<circle cx="651.60" cy="441.90" r="5.0" fill="none" stroke="#f7a03e" stroke-width="2.1"/>
<text x="667.8000000000001" y="447.50" font-size="16">11</text>
<text x="514.2" y="520" font-size="18.2" text-anchor="middle">Expedition months</text>
<path d="M493.50 256.50V262.70M490.82 258.05L496.18 261.15M490.82 261.15L496.18 258.05" stroke="#ba55dc" stroke-width="1.3" stroke-linecap="round" fill="none"/>
<path d="M493.50 271.60V277.80M490.82 273.15L496.18 276.25M490.82 276.25L496.18 273.15" stroke="#0bbe78" stroke-width="1.3" stroke-linecap="round" fill="none"/>
<path d="M493.50 285.80V292.00M490.82 287.35L496.18 290.45M490.82 290.45L496.18 287.35" stroke="#f7a03e" stroke-width="1.3" stroke-linecap="round" fill="none"/>
<path d="M535.20 271.60V277.80M532.52 273.15L537.88 276.25M532.52 276.25L537.88 273.15" stroke="#0bbe78" stroke-width="1.3" stroke-linecap="round" fill="none"/>
<path d="M535.20 285.80V292.00M532.52 287.35L537.88 290.45M532.52 290.45L537.88 287.35" stroke="#ba55dc" stroke-width="1.3" stroke-linecap="round" fill="none"/>
<path d="M577.00 285.80V292.00M574.32 287.35L579.68 290.45M574.32 290.45L579.68 287.35" stroke="#f7a03e" stroke-width="1.3" stroke-linecap="round" fill="none"/>
</g></svg></body></html>
